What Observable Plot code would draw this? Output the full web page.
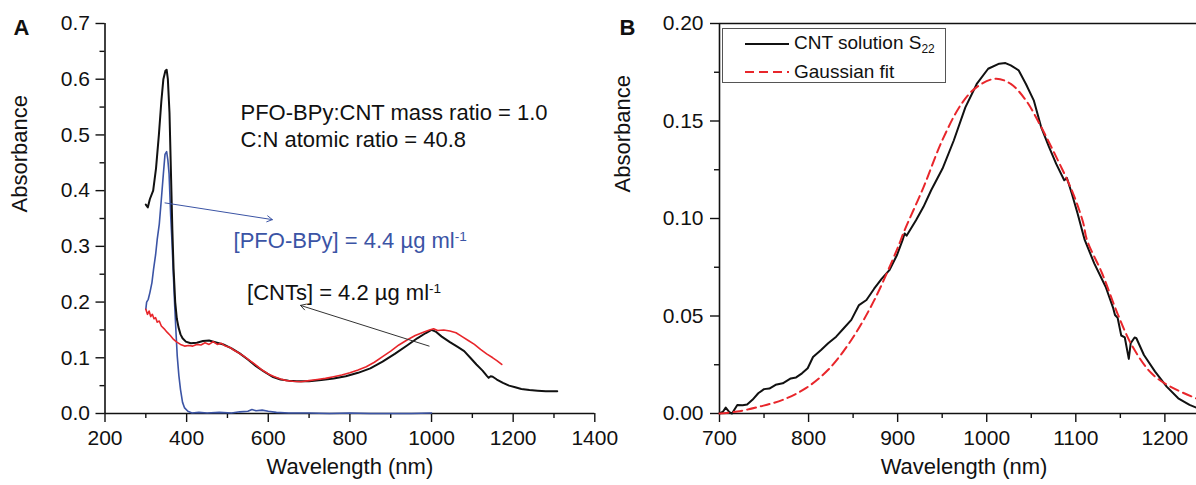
<!DOCTYPE html>
<html>
<head>
<meta charset="utf-8">
<script src="https://cdn.jsdelivr.net/npm/d3@7"></script>
<script src="https://cdn.jsdelivr.net/npm/@observablehq/plot@0.6"></script>
<style>
  html, body { margin: 0; padding: 0; background: #fff; }
  #wrap { position: relative; width: 1196px; height: 485px; overflow: hidden; font-family: "Liberation Sans", Arial, Helvetica, sans-serif; }
  #panelA, #panelB { position: absolute; top: 0; }
  #panelA { left: 0; }
  #panelB { left: 600px; }
  #legend { position: absolute; left: 722px; top: 28px; width: 222px; height: 53px; border: 1px solid #555; background: #fff; }
  #legend .row { position: absolute; left: 0; height: 24px; display: flex; align-items: center; font-size: 19px; color: #111; }
  #legend svg { margin-left: 22px; margin-right: 5px; }
  #legend sub { font-size: 12px; vertical-align: -4px; }
</style>
</head>
<body>
<div id="wrap">
  <div id="panelB"></div>
  <div id="panelA"></div>
  <div id="legend">
    <div class="row" style="top:3px"><svg width="44" height="6"><line x1="0" x2="44" y1="3" y2="3" stroke="#111" stroke-width="2"/></svg><span>CNT solution S<sub>22</sub></span></div>
    <div class="row" style="top:31px"><svg width="44" height="6"><line x1="0" x2="44" y1="3" y2="3" stroke="#e8262b" stroke-width="2" stroke-dasharray="9,5"/></svg><span>Gaussian fit</span></div>
  </div>
</div>
<script>
const FONT = '"Liberation Sans", Arial, Helvetica, sans-serif';

// ---------- Panel A data ----------
const blackA_wl = [300,305,310,318,325,332,338,343,348,351,354,358,362,365,368,372,376,380,385,390,398,410,425,440,455,470,490,510,530,550,570,590,610,630,650,670,700,730,760,790,820,850,880,910,940,965,985,1000,1010,1025,1045,1065,1080,1095,1110,1125,1135,1140,1145,1150,1160,1175,1190,1205,1220,1240,1260,1280,1300,1308];
const blackA_abs = [0.375,0.37,0.385,0.40,0.44,0.50,0.56,0.60,0.615,0.617,0.60,0.54,0.42,0.33,0.26,0.20,0.17,0.155,0.142,0.135,0.129,0.126,0.127,0.13,0.131,0.128,0.124,0.117,0.108,0.097,0.085,0.075,0.066,0.061,0.059,0.058,0.058,0.060,0.063,0.067,0.073,0.081,0.093,0.107,0.122,0.135,0.144,0.150,0.147,0.138,0.128,0.119,0.112,0.100,0.088,0.077,0.068,0.064,0.067,0.066,0.061,0.055,0.050,0.047,0.044,0.042,0.041,0.040,0.040,0.040];

const redA_wl = [300,304,308,312,316,320,324,328,333,338,345,352,360,368,376,385,395,405,415,425,435,445,455,465,475,485,495,505,515,525,540,555,570,585,600,615,630,645,660,680,700,720,740,760,780,800,820,840,860,880,900,920,940,960,980,995,1005,1015,1030,1045,1060,1075,1090,1105,1120,1135,1150,1160,1172];
const redA_abs = [0.187,0.178,0.184,0.174,0.178,0.170,0.172,0.164,0.166,0.157,0.152,0.146,0.140,0.133,0.128,0.124,0.121,0.122,0.121,0.124,0.123,0.127,0.124,0.129,0.124,0.126,0.121,0.119,0.114,0.110,0.103,0.095,0.087,0.078,0.071,0.066,0.062,0.059,0.058,0.057,0.059,0.061,0.063,0.066,0.069,0.073,0.078,0.084,0.092,0.102,0.112,0.123,0.132,0.140,0.146,0.150,0.152,0.149,0.150,0.148,0.145,0.138,0.131,0.124,0.115,0.107,0.100,0.095,0.088];

const blueA_wl = [300,302,306,310,315,319,324,328,333,338,343,347,351,354,357,361,364,368,371,374,377,381,385,390,395,403,413,430,450,480,510,530,550,560,570,585,600,620,650,700,750,800,850,900,950,1000];
const blueA_abs = [0.187,0.200,0.205,0.217,0.235,0.259,0.285,0.313,0.340,0.384,0.430,0.465,0.470,0.455,0.430,0.354,0.310,0.240,0.190,0.145,0.103,0.068,0.043,0.020,0.010,0.004,0.001,0.002,0.001,0.002,0.001,0.003,0.004,0.007,0.005,0.006,0.004,0.002,0.001,0.001,0.000,0.001,0.000,0.000,0.000,0.001];

const xTicksA = [200,400,600,800,1000,1200,1400];
const xMinorA = [300,500,700,900,1100,1300];
const yTicksA = [0,0.1,0.2,0.3,0.4,0.5,0.6,0.7];
const yMinorA = [0.05,0.15,0.25,0.35,0.45,0.55,0.65];

// annotations (data coordinates: wavelength, absorbance)
const noteText = ["PFO-BPy:CNT mass ratio = 1.0", "C:N atomic ratio = 40.8", "[PFO-BPy] = 4.4 µg ml^-1", "[CNTs] = 4.2 µg ml^-1"];
const noteWl   = [532, 532, 515, 548];
const noteAbs  = [0.527, 0.478, 0.297, 0.203];
const noteColor = ["#111", "#111", "#3b54a5", "#111"];

const arrowFromWl = [347, 994];
const arrowFromAbs = [0.378, 0.121];
const arrowToWl = [610, 679];
const arrowToAbs = [0.348, 0.194];
const arrowColor = ["#3b54a5", "#333"];

// ---------- Panel B data ----------
const blackB_wl = [700,704,707,711.5,714,720,726,731,737,743.5,750,756,763,771,780,786,792.6,799,805,814,822,831,839.5,848,856.6,865,873.6,882,890.7,899,905.6,907.8,910,920.6,929,937.6,950.4,963,976,988.8,1001.6,1014,1021,1027,1035.8,1044,1052.8,1061,1069.9,1078,1087,1090,1095.5,1102,1108,1110,1120.7,1133.5,1142,1144,1147,1151,1155,1159.5,1161.6,1166,1168,1176.5,1189,1202,1215,1227.7,1235.4];
const blackB_abs = [0.000,0.001,0.003,0.0005,0.000,0.0044,0.0042,0.0046,0.007,0.0104,0.0125,0.0128,0.0147,0.0155,0.018,0.0185,0.0206,0.0232,0.029,0.0326,0.036,0.0394,0.0437,0.048,0.0556,0.0582,0.064,0.069,0.0735,0.081,0.089,0.0923,0.0912,0.0991,0.106,0.1145,0.1256,0.140,0.157,0.169,0.1768,0.1794,0.1797,0.1785,0.176,0.169,0.1606,0.147,0.1367,0.128,0.1196,0.1208,0.1128,0.1026,0.0923,0.089,0.077,0.065,0.054,0.0505,0.049,0.040,0.039,0.028,0.036,0.039,0.0386,0.030,0.0215,0.0138,0.0078,0.0044,0.003];

const fitB_wl = [700,720,745.6,771,797,822,848,873.6,899,907.8,929,950,971.8,988.8,1010,1027,1044,1061,1078,1095.5,1108,1112.5,1129.6,1146.7,1163.7,1185,1206,1235];
const fitB_abs = [0.000,0.001,0.0036,0.007,0.013,0.0224,0.0377,0.058,0.0838,0.094,0.116,0.140,0.1589,0.1674,0.1717,0.169,0.1606,0.147,0.1316,0.1145,0.0983,0.089,0.0718,0.0514,0.0343,0.0206,0.0138,0.0078];

const xTicksB = [700,800,900,1000,1100,1200];
const xMinorB = [750,850,950,1050,1150];
const yTicksB = [0,0.05,0.10,0.15,0.20];
const yMinorB = [0.025,0.075,0.125,0.175];

// ---------- build tables ----------
const zip = (xs, ys, extra = {}) => xs.map((x, i) => ({wl: x, abs: ys[i], ...extra}));
const blackA = zip(blackA_wl, blackA_abs);
const redA = zip(redA_wl, redA_abs);
const blueA = zip(blueA_wl, blueA_abs);
const notes = noteText.map((t, i) => ({t, wl: noteWl[i], abs: noteAbs[i], c: noteColor[i]}));
const arrows = arrowFromWl.map((x, i) => ({x1: x, y1: arrowFromAbs[i], x2: arrowToWl[i], y2: arrowToAbs[i], c: arrowColor[i]}));
const blackB = zip(blackB_wl, blackB_abs);
const fitB = zip(fitB_wl, fitB_abs);

const baseStyle = {fontFamily: FONT, fontSize: "21px", background: "transparent", overflow: "visible", color: "#111"};

const plotA = Plot.plot({
  width: 640, height: 485,
  marginLeft: 104.5, marginRight: 45.7, marginTop: 23, marginBottom: 72,
  style: baseStyle,
  x: {domain: [200, 1400], label: null},
  y: {domain: [0, 0.7], label: null},
  marks: [
    Plot.axisX({ticks: xTicksA, tickSize: 9, tickPadding: 8, tickFormat: d => String(d), label: null, strokeWidth: 1.4}),
    Plot.axisX({ticks: xMinorA, tickSize: 5, tickFormat: () => "", label: null, strokeWidth: 1.4}),
    Plot.axisY({ticks: yTicksA, tickSize: 9, tickPadding: 6, tickFormat: d3.format(".1f"), label: null, strokeWidth: 1.4}),
    Plot.axisY({ticks: yMinorA, tickSize: 5, tickFormat: () => "", label: null, strokeWidth: 1.4}),
    Plot.ruleX([200], {stroke: "#111", strokeWidth: 1.6}),
    Plot.ruleY([0], {stroke: "#111", strokeWidth: 1.6}),
    Plot.line(blueA, {x: "wl", y: "abs", stroke: "#3b54a5", strokeWidth: 1.6}),
    Plot.line(blackA, {x: "wl", y: "abs", stroke: "#111", strokeWidth: 2}),
    Plot.line(redA, {x: "wl", y: "abs", stroke: "#e8262b", strokeWidth: 1.6}),
    Plot.arrow(arrows, {x1: "x1", y1: "y1", x2: "x2", y2: "y2", stroke: "c", strokeWidth: 1, headLength: 9}),
    Plot.text(notes, {x: "wl", y: "abs", text: "t", fill: "c", textAnchor: "start", lineAnchor: "bottom", fontSize: 22}),
    Plot.text(["Absorbance"], {frameAnchor: "left", rotate: -90, dx: -85, dy: -6, fontSize: 22, fill: "#111"}),
    Plot.text(["Wavelength (nm)"], {frameAnchor: "bottom", dy: 60, lineAnchor: "bottom", fontSize: 22, fill: "#111"}),
    Plot.text(["A"], {frameAnchor: "top-left", textAnchor: "start", lineAnchor: "bottom", dx: -91.5, dy: 11, fontSize: 22, fontWeight: "bold", fill: "#111"})
  ]
});

const plotB = Plot.plot({
  width: 596, height: 485,
  marginLeft: 119, marginRight: 0, marginTop: 23, marginBottom: 72,
  style: baseStyle,
  x: {domain: [700, 1235.5], label: null},
  y: {domain: [0, 0.2], label: null},
  marks: [
    Plot.axisX({ticks: xTicksB, tickSize: 9, tickPadding: 8, tickFormat: d => String(d), label: null, strokeWidth: 1.4}),
    Plot.axisX({ticks: xMinorB, tickSize: 5, tickFormat: () => "", label: null, strokeWidth: 1.4}),
    Plot.axisY({ticks: yTicksB, tickSize: 9, tickPadding: 7, tickFormat: d3.format(".2f"), label: null, strokeWidth: 1.4}),
    Plot.axisY({ticks: yMinorB, tickSize: 5, tickFormat: () => "", label: null, strokeWidth: 1.4}),
    Plot.ruleX([700], {stroke: "#111", strokeWidth: 1.6}),
    Plot.ruleY([0], {stroke: "#111", strokeWidth: 1.6}),
    Plot.ruleY([0.2], {stroke: "#111", strokeWidth: 1.6}),
    Plot.line(blackB, {x: "wl", y: "abs", stroke: "#111", strokeWidth: 2}),
    Plot.line(fitB, {x: "wl", y: "abs", stroke: "#e8262b", strokeWidth: 2, strokeDasharray: "9,5", curve: "catmull-rom"}),
    Plot.text(["Absorbance"], {frameAnchor: "left", rotate: -90, dx: -97, dy: -26, fontSize: 22, fill: "#111"}),
    Plot.text(["Wavelength (nm)"], {frameAnchor: "bottom", dy: 60, dx: 6, lineAnchor: "bottom", fontSize: 22, fill: "#111"}),
    Plot.text(["B"], {frameAnchor: "top-left", textAnchor: "start", lineAnchor: "bottom", dx: -100, dy: 11, fontSize: 22, fontWeight: "bold", fill: "#111"})
  ]
});

// superscripts for "ml^-1"
d3.select(plotA).selectAll("text").each(function () {
  const s = this.textContent;
  if (s.includes("^")) {
    const [base, sup] = s.split("^");
    const el = d3.select(this);
    el.text(base);
    el.append("tspan").attr("dy", "-0.55em").attr("font-size", "0.62em").text(sup);
  }
});

document.getElementById("panelA").appendChild(plotA);
document.getElementById("panelB").appendChild(plotB);
</script>
</body>
</html>
